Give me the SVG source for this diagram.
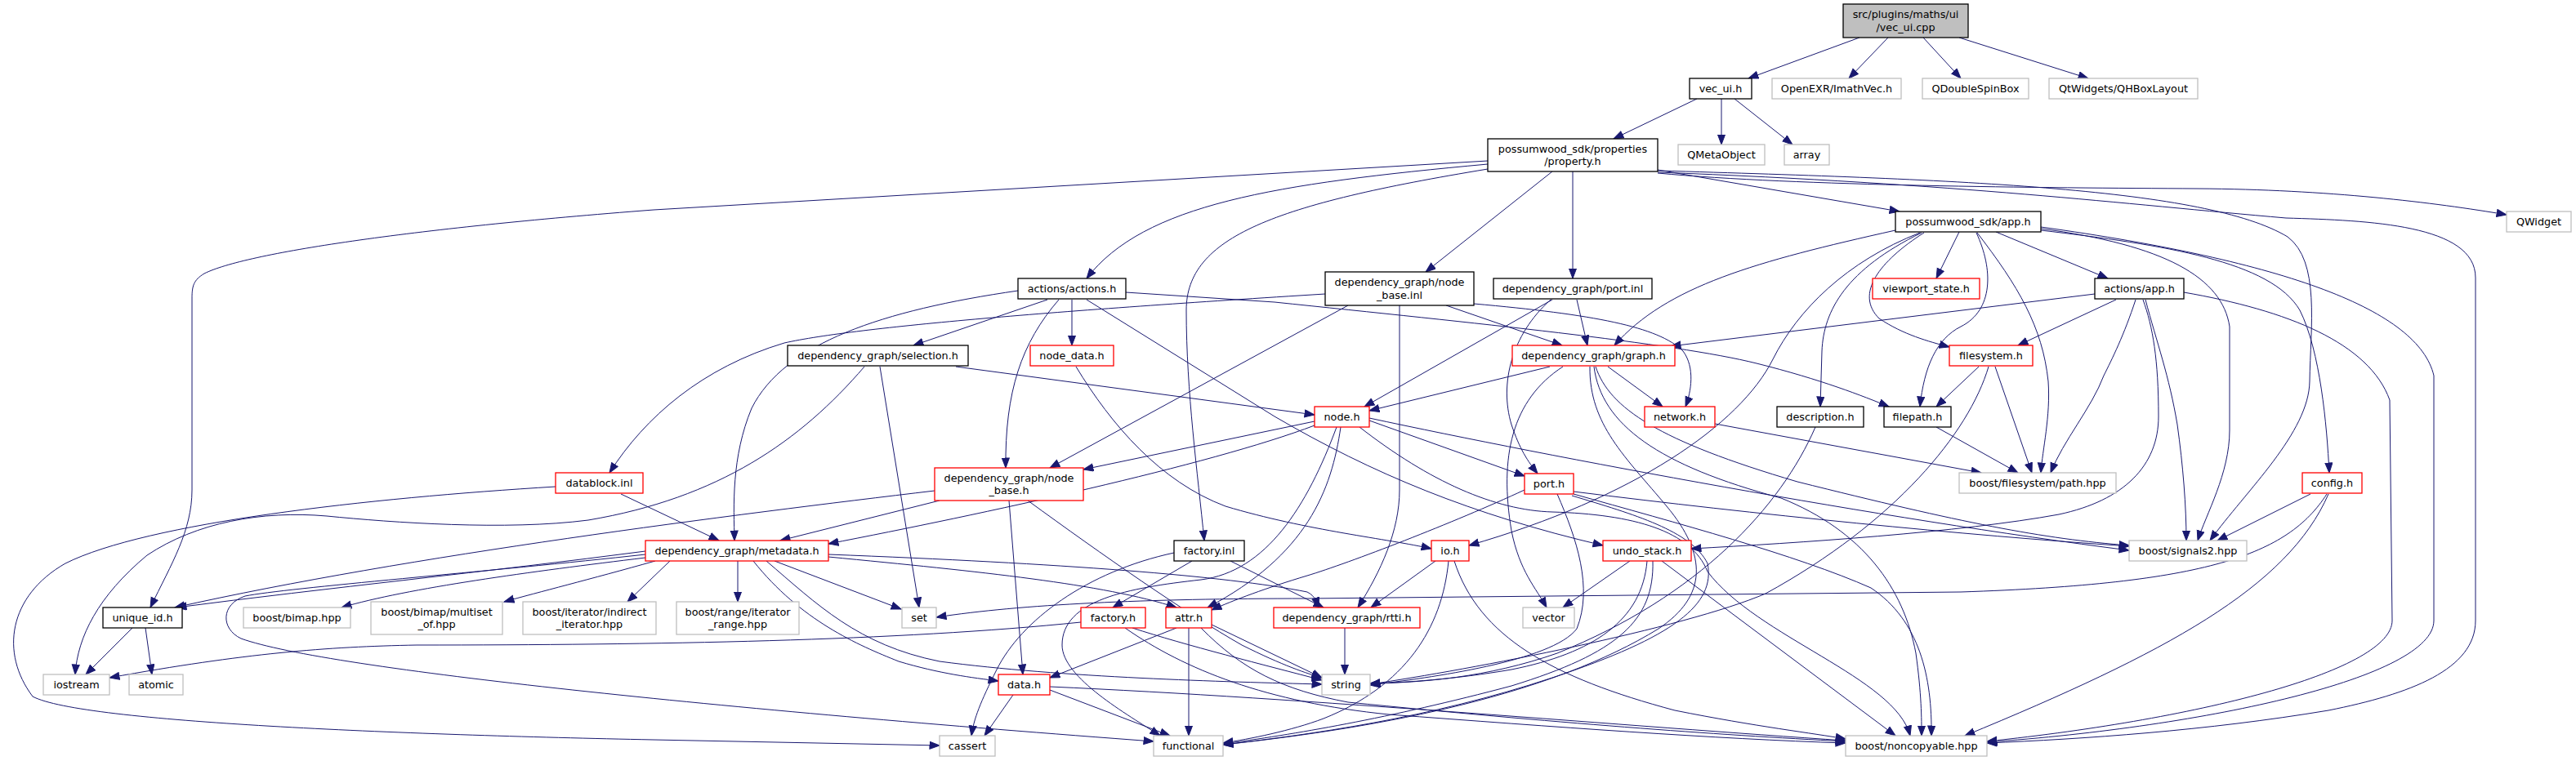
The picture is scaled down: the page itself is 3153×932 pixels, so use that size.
<svg xmlns="http://www.w3.org/2000/svg" width="3153" height="932" viewBox="0 0 3153 932">
<style>
.n rect{fill:#fff;stroke:#000;stroke-width:1.3}
.r rect{fill:#fff;stroke:#f00;stroke-width:1.3}
.g rect{fill:#fff;stroke:#bfbfbf;stroke-width:1.3}
.root rect{fill:#bfbfbf;stroke:#000;stroke-width:1.3}
text{font-family:"DejaVu Sans",sans-serif;font-size:12.8px;text-anchor:middle;fill:#000}
.e path{fill:none;stroke:#191970;stroke-width:1;marker-end:url(#a)}
</style>
<defs>
<marker id="a" markerWidth="14" markerHeight="11" refX="12.5" refY="5" orient="auto" markerUnits="userSpaceOnUse"><path d="M0.5,0.5 L12.5,5 L0.5,9.5 z" fill="#191970" stroke="#191970" stroke-width="1"/></marker>
</defs>
<rect width="3153" height="932" fill="#fff"/>
<g id="edges" class="e">
<path d="M2276,46 L2140,96"/>
<path d="M2311,46 L2263,96"/>
<path d="M2354,46 L2400,96"/>
<path d="M2398,46 L2556,96"/>
<path d="M2077,121 L1975,170"/>
<path d="M2107,121 L2107,177"/>
<path d="M2123,121 L2194,177"/>
<path d="M1821,201 C1560,225 1400,250 1330,341"/>
<path d="M1821,197 L800,257 C500,280 300,310 250,335 C237,343 235,350 235,365 L235,600 C235,650 210,690 184,744"/>
<path d="M1821,207 C1560,250 1452,290 1452,380 C1452,480 1466,580 1474,662"/>
<path d="M1900,210 L1745,333"/>
<path d="M1925,210 L1925,341"/>
<path d="M2029,208 L2325,259"/>
<path d="M2029,212 C2200,228 2500,230 2690,231 C2850,232 2980,248 3068,263"/>
<path d="M2029,209 C2400,220 2700,230 2800,290 C2840,320 2828,400 2827,467 C2826,530 2750,600 2705,662"/>
<path d="M2029,211 C2400,225 2600,250 2798,267 C2900,270 3030,275 3030,340 L3030,760 C3030,820 2950,850 2850,870 C2700,895 2550,905 2432,910"/>
<path d="M2398,284 L2370,341"/>
<path d="M2443,284 L2580,341"/>
<path d="M2498,282 C2650,300 2780,320 2815,380 C2840,430 2848,520 2851,579"/>
<path d="M2320,282 C2150,320 2040,350 1976,423"/>
<path d="M2350,285 C2260,320 2200,380 2170,440 C2130,520 2000,610 1798,668"/>
<path d="M2352,285 C2260,330 2232,380 2230,430 L2228,498"/>
<path d="M2355,285 C2300,320 2270,360 2300,390 C2330,410 2360,418 2386,425"/>
<path d="M2419,285 C2440,330 2440,380 2400,400 C2370,415 2355,450 2350,498"/>
<path d="M2420,285 C2470,350 2500,400 2507,467 C2510,510 2500,550 2498,579"/>
<path d="M2498,280 C2650,300 2720,340 2729,400 L2729,527 C2729,580 2700,630 2690,662"/>
<path d="M2498,278 C2800,320 2960,380 2979,460 L2979,760 C2979,830 2700,890 2432,909"/>
<path d="M2564,360 L2045,424"/>
<path d="M2590,367 L2470,423"/>
<path d="M2614,367 C2600,410 2585,440 2575,460 C2560,500 2525,540 2510,579"/>
<path d="M2623,367 C2635,400 2642,440 2642,510 C2642,570 2600,613 2520,630 C2400,652 2200,665 2070,672"/>
<path d="M2626,367 C2640,420 2655,460 2665,520 C2672,570 2676,620 2676,662"/>
<path d="M2673,358 C2800,380 2900,420 2925,490 L2928,760 C2928,820 2700,880 2432,908"/>
<path d="M2828,605 L2714,662"/>
<path d="M2848,605 C2800,680 2700,715 2400,725 L1600,733 C1400,733 1250,740 1146,756"/>
<path d="M2850,605 C2800,720 2650,800 2405,901"/>
<path d="M2422,449 L2370,498"/>
<path d="M2442,449 L2487,579"/>
<path d="M2434,449 C2410,530 2320,640 2161,727 C2060,770 1800,820 1677,838"/>
<path d="M2370,523 L2470,579"/>
<path d="M2099,519 L2425,579"/>
<path d="M2222,523 C2180,620 2080,730 1906,800 C1820,830 1740,836 1677,837"/>
<path d="M1897,449 L1676,503"/>
<path d="M1913,449 C1850,490 1835,560 1850,650 C1860,700 1880,720 1893,744"/>
<path d="M1968,449 L2035,498"/>
<path d="M1946,449 C1945,520 1990,560 2040,620 C2090,680 2090,730 2030,770 C1900,850 1700,890 1497,912"/>
<path d="M1951,449 C1960,520 2030,570 2180,610 C2280,650 2330,720 2345,800 C2352,850 2352,880 2352,901"/>
<path d="M1953,449 C1970,500 2030,540 2200,590 C2400,640 2500,660 2606,668"/>
<path d="M1609,516 L1326,575"/>
<path d="M1609,521 C1480,570 1200,630 1014,666"/>
<path d="M1636,523 C1600,620 1550,700 1470,710 C1380,720 1300,735 1300,790 C1300,830 1380,875 1420,901"/>
<path d="M1641,523 C1630,600 1600,680 1478,744"/>
<path d="M1676,512 C1900,560 2300,635 2606,674"/>
<path d="M1676,515 L1866,583"/>
<path d="M1664,523 C1750,590 1830,625 1900,627 C2000,630 2070,650 2090,700 C2150,780 2320,830 2338,901"/>
<path d="M1866,600 C1780,640 1650,690 1600,705 C1550,720 1510,735 1483,747"/>
<path d="M1906,605 C1930,660 1950,720 1930,770 C1900,810 1750,830 1677,839"/>
<path d="M1926,602 C2150,630 2400,655 2606,669"/>
<path d="M1926,605 C2050,640 2200,680 2290,720 C2350,760 2365,830 2364,901"/>
<path d="M1924,607 C2000,630 2070,650 2090,690 C2100,740 2050,780 1900,830 C1750,880 1600,900 1497,912"/>
<path d="M1757,687 L1678,744"/>
<path d="M1773,687 C1765,770 1720,840 1620,880 C1580,895 1530,905 1497,910"/>
<path d="M1780,687 C1810,780 1900,830 2050,870 C2150,890 2220,898 2259,905"/>
<path d="M1995,687 L1913,744"/>
<path d="M2016,687 C2010,760 1950,800 1850,820 C1780,832 1720,836 1677,837"/>
<path d="M2023,687 C2025,760 1980,800 1850,840 C1700,880 1580,900 1497,911"/>
<path d="M2034,687 L2320,901"/>
<path d="M1646,769 L1646,826"/>
<path d="M1622,360 C1300,380 1050,400 960,420 C860,450 790,510 746,579"/>
<path d="M1650,374 L1285,573"/>
<path d="M1770,374 L1912,423"/>
<path d="M1804,372 C1950,385 2030,400 2060,430 C2075,450 2070,480 2063,498"/>
<path d="M1713,374 L1713,600 C1713,650 1690,700 1662,744"/>
<path d="M1900,367 L1670,498"/>
<path d="M1898,367 C1850,410 1835,470 1850,520 C1860,550 1870,565 1882,580"/>
<path d="M1930,367 L1943,423"/>
<path d="M1246,356 C1080,380 960,420 920,500 C895,560 898,620 899,662"/>
<path d="M1282,367 L1118,423"/>
<path d="M1296,367 C1250,420 1230,480 1231,573"/>
<path d="M1312,367 L1312,423"/>
<path d="M1330,367 L1560,510 C1680,580 1800,630 1962,668"/>
<path d="M1378,358 L1560,370 C1800,395 2050,420 2150,445 C2230,465 2280,485 2312,498"/>
<path d="M1058,449 C980,540 880,610 720,637 C620,650 480,640 400,632 C320,625 240,640 180,680 C120,730 95,780 92,826"/>
<path d="M1077,449 L1125,744"/>
<path d="M1170,449 L1609,508"/>
<path d="M1317,449 C1360,520 1420,590 1500,620 C1600,650 1700,660 1752,672"/>
<path d="M760,605 L880,662"/>
<path d="M680,596 C450,610 180,640 80,690 C10,730 0,800 40,853 C100,885 500,900 800,906 L1150,913"/>
<path d="M1144,601 C900,630 500,680 214,744"/>
<path d="M1150,613 L955,662"/>
<path d="M1235,613 L1252,826"/>
<path d="M1258,613 C1350,680 1450,750 1520,790 C1570,815 1600,825 1618,830"/>
<path d="M790,675 C600,700 400,720 216,744"/>
<path d="M790,683 C650,700 500,720 418,744"/>
<path d="M802,687 C720,710 660,725 617,737"/>
<path d="M820,687 L768,737"/>
<path d="M903,687 L903,737"/>
<path d="M948,687 L1103,746"/>
<path d="M922,687 C980,760 1050,790 1100,810 C1150,825 1190,830 1222,834"/>
<path d="M938,687 C1000,740 1050,790 1150,810 C1300,830 1500,835 1618,838"/>
<path d="M1014,682 C1200,700 1350,715 1440,744"/>
<path d="M1014,679 C1300,690 1500,705 1600,725 C1610,730 1612,738 1614,744"/>
<path d="M790,679 C600,700 350,720 300,730 C270,740 270,770 295,782 C400,820 900,870 1412,908"/>
<path d="M162,769 L105,826"/>
<path d="M178,769 L186,826"/>
<path d="M1437,677 C1330,700 1250,760 1220,820 C1200,860 1192,880 1189,901"/>
<path d="M1459,687 L1362,744"/>
<path d="M1506,687 L1620,744"/>
<path d="M1323,762 C1100,785 800,790 510,790 C400,792 300,800 134,830"/>
<path d="M1386,769 C1450,790 1550,815 1618,833"/>
<path d="M1377,769 C1450,820 1550,860 1700,875 C1900,890 2100,905 2259,910"/>
<path d="M1440,769 L1285,830"/>
<path d="M1455,769 L1455,901"/>
<path d="M1483,765 L1618,830"/>
<path d="M1470,769 C1520,820 1570,845 1650,860 C1900,885 2100,900 2259,908"/>
<path d="M1240,851 L1205,901"/>
<path d="M1285,845 L1432,901"/>
<path d="M1285,841 C1600,855 2000,890 2259,907"/>
</g>
<g id="n1" class="root"><rect x="2256" y="5" width="153" height="41"/><text x="2332.5" y="22">src/plugins/maths/ui</text><text x="2332.5" y="38">/vec_ui.cpp</text></g>
<g id="n2" class="n"><rect x="2068" y="96" width="76" height="25"/><text x="2106" y="113">vec_ui.h</text></g>
<g id="n3" class="g"><rect x="2169" y="96" width="158" height="25"/><text x="2248" y="113">OpenEXR/ImathVec.h</text></g>
<g id="n4" class="g"><rect x="2353" y="96" width="130" height="25"/><text x="2418" y="113">QDoubleSpinBox</text></g>
<g id="n5" class="g"><rect x="2508" y="96" width="182" height="25"/><text x="2599" y="113">QtWidgets/QHBoxLayout</text></g>
<g id="n6" class="n"><rect x="1821" y="170" width="208" height="40"/><text x="1925" y="187">possumwood_sdk/properties</text><text x="1925" y="202">/property.h</text></g>
<g id="n7" class="g"><rect x="2054" y="177" width="106" height="25"/><text x="2107" y="194">QMetaObject</text></g>
<g id="n8" class="g"><rect x="2184" y="177" width="55" height="25"/><text x="2211.5" y="194">array</text></g>
<g id="n9" class="n"><rect x="1246" y="341" width="132" height="25"/><text x="1312" y="358">actions/actions.h</text></g>
<g id="n10" class="n"><rect x="1622" y="333" width="182" height="41"/><text x="1713" y="350">dependency_graph/node</text><text x="1713" y="366">_base.inl</text></g>
<g id="n11" class="n"><rect x="1828" y="341" width="194" height="25"/><text x="1925" y="358">dependency_graph/port.inl</text></g>
<g id="n12" class="n"><rect x="2320" y="259" width="178" height="25"/><text x="2409" y="276">possumwood_sdk/app.h</text></g>
<g id="n13" class="g"><rect x="3068" y="259" width="79" height="25"/><text x="3107.5" y="276">QWidget</text></g>
<g id="n14" class="r"><rect x="2292" y="341" width="131" height="25"/><text x="2357.5" y="358">viewport_state.h</text></g>
<g id="n15" class="n"><rect x="2564" y="341" width="109" height="25"/><text x="2618.5" y="358">actions/app.h</text></g>
<g id="n16" class="r"><rect x="2818" y="579" width="73" height="25"/><text x="2854.5" y="596">config.h</text></g>
<g id="n17" class="n"><rect x="964" y="423" width="221" height="25"/><text x="1074.5" y="440">dependency_graph/selection.h</text></g>
<g id="n18" class="r"><rect x="1261" y="423" width="102" height="25"/><text x="1312" y="440">node_data.h</text></g>
<g id="n19" class="r"><rect x="1851" y="423" width="199" height="25"/><text x="1950.5" y="440">dependency_graph/graph.h</text></g>
<g id="n20" class="r"><rect x="2386" y="423" width="102" height="25"/><text x="2437" y="440">filesystem.h</text></g>
<g id="n21" class="r"><rect x="680" y="579" width="107" height="25"/><text x="733.5" y="596">datablock.inl</text></g>
<g id="n22" class="r"><rect x="1609" y="498" width="67" height="25"/><text x="1642.5" y="515">node.h</text></g>
<g id="n23" class="r"><rect x="2013" y="498" width="86" height="25"/><text x="2056" y="515">network.h</text></g>
<g id="n24" class="n"><rect x="2175" y="498" width="106" height="25"/><text x="2228" y="515">description.h</text></g>
<g id="n25" class="n"><rect x="2306" y="498" width="82" height="25"/><text x="2347" y="515">filepath.h</text></g>
<g id="n26" class="r"><rect x="1144" y="573" width="182" height="40"/><text x="1235" y="590">dependency_graph/node</text><text x="1235" y="605">_base.h</text></g>
<g id="n27" class="r"><rect x="1866" y="580" width="60" height="25"/><text x="1896" y="597">port.h</text></g>
<g id="n28" class="g"><rect x="2398" y="579" width="192" height="25"/><text x="2494" y="596">boost/filesystem/path.hpp</text></g>
<g id="n29" class="r"><rect x="790" y="662" width="224" height="25"/><text x="902" y="679">dependency_graph/metadata.h</text></g>
<g id="n30" class="n"><rect x="1437" y="662" width="86" height="25"/><text x="1480" y="679">factory.inl</text></g>
<g id="n31" class="r"><rect x="1752" y="662" width="46" height="25"/><text x="1775" y="679">io.h</text></g>
<g id="n32" class="r"><rect x="1962" y="662" width="108" height="25"/><text x="2016" y="679">undo_stack.h</text></g>
<g id="n33" class="g"><rect x="2606" y="662" width="144" height="25"/><text x="2678" y="679">boost/signals2.hpp</text></g>
<g id="n34" class="n"><rect x="126" y="744" width="97" height="25"/><text x="174.5" y="761">unique_id.h</text></g>
<g id="n35" class="g"><rect x="298" y="744" width="131" height="25"/><text x="363.5" y="761">boost/bimap.hpp</text></g>
<g id="n36" class="g"><rect x="454" y="737" width="161" height="40"/><text x="534.5" y="754">boost/bimap/multiset</text><text x="534.5" y="769">_of.hpp</text></g>
<g id="n37" class="g"><rect x="640" y="737" width="163" height="40"/><text x="721.5" y="754">boost/iterator/indirect</text><text x="721.5" y="769">_iterator.hpp</text></g>
<g id="n38" class="g"><rect x="828" y="737" width="150" height="40"/><text x="903" y="754">boost/range/iterator</text><text x="903" y="769">_range.hpp</text></g>
<g id="n39" class="g"><rect x="1104" y="744" width="42" height="25"/><text x="1125" y="761">set</text></g>
<g id="n40" class="r"><rect x="1323" y="744" width="79" height="25"/><text x="1362.5" y="761">factory.h</text></g>
<g id="n41" class="r"><rect x="1427" y="744" width="56" height="25"/><text x="1455" y="761">attr.h</text></g>
<g id="n42" class="r"><rect x="1559" y="744" width="179" height="25"/><text x="1648.5" y="761">dependency_graph/rtti.h</text></g>
<g id="n43" class="g"><rect x="1864" y="744" width="63" height="25"/><text x="1895.5" y="761">vector</text></g>
<g id="n44" class="g"><rect x="53" y="826" width="81" height="25"/><text x="93.5" y="843">iostream</text></g>
<g id="n45" class="g"><rect x="158" y="826" width="66" height="25"/><text x="191" y="843">atomic</text></g>
<g id="n46" class="r"><rect x="1222" y="826" width="63" height="25"/><text x="1253.5" y="843">data.h</text></g>
<g id="n47" class="g"><rect x="1618" y="826" width="59" height="25"/><text x="1647.5" y="843">string</text></g>
<g id="n48" class="g"><rect x="1150" y="901" width="68" height="25"/><text x="1184" y="918">cassert</text></g>
<g id="n49" class="g"><rect x="1412" y="901" width="85" height="25"/><text x="1454.5" y="918">functional</text></g>
<g id="n50" class="g"><rect x="2259" y="901" width="173" height="25"/><text x="2345.5" y="918">boost/noncopyable.hpp</text></g>
</svg>
